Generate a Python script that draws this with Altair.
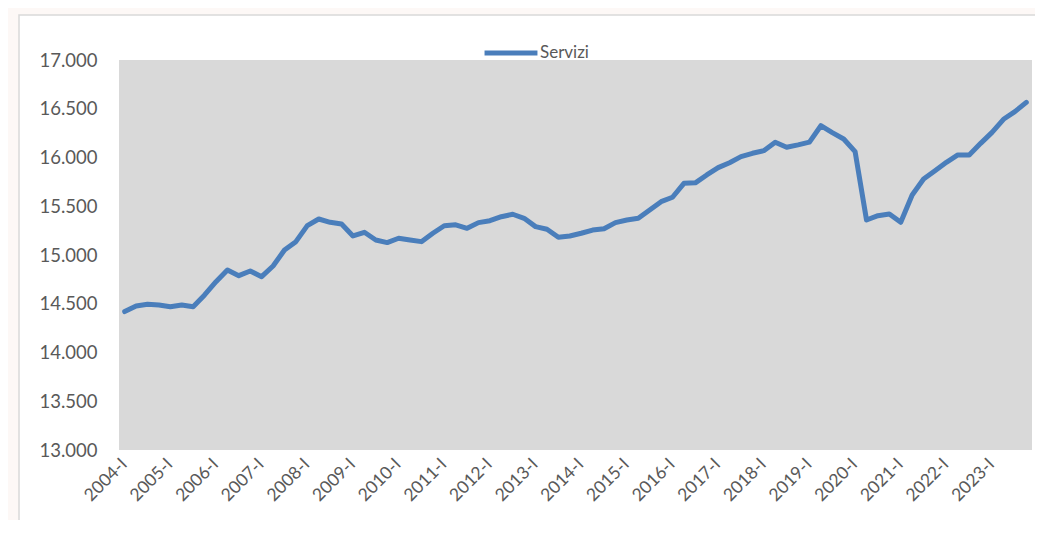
import altair as alt
import pandas as pd

years = list(range(2004, 2024))
quarters = ["I", "II", "III", "IV"]
periods = [f"{y}-{q}" for y in years for q in quarters]

servizi = [
    14420, 14476, 14494, 14487, 14470, 14487, 14470, 14590,
    14726, 14846, 14788, 14836, 14778, 14887, 15051, 15137,
    15301, 15369, 15335, 15318, 15195, 15233, 15154, 15127,
    15172, 15154, 15137, 15223, 15300, 15310, 15274, 15332,
    15352, 15393, 15418, 15376, 15291, 15264, 15182, 15195,
    15223, 15256, 15270, 15332, 15359, 15376, 15462, 15547,
    15592, 15735, 15740, 15821, 15896, 15947, 16009, 16043,
    16070, 16156, 16105, 16130, 16158, 16326, 16255, 16190,
    16060, 15359, 15403, 15421, 15335, 15615, 15779, 15864,
    15951, 16026, 16026, 16145, 16258, 16392, 16470, 16566,
]
year_labels = [f"{y}-I" for y in years]

df = pd.DataFrame({"periodo": periods, "valore": servizi, "serie": "Servizi"})

W, H = 913, 390
FONT = "Lato"
GREY_TXT = "#595959"

frame = alt.Chart(pd.DataFrame({"a": [0]})).mark_rect(
    fill="white", stroke="#d9d9d9", strokeWidth=1.5
).encode(
    x=alt.value(-100), x2=alt.value(W + 40),
    y=alt.value(-45), y2=alt.value(H + 120),
)

plot_bg = alt.Chart(pd.DataFrame({"a": [0]})).mark_rect(fill="#d9d9d9").encode(
    x=alt.value(0), x2=alt.value(W), y=alt.value(0), y2=alt.value(H)
)

line = alt.Chart(df).mark_line(strokeWidth=5, strokeJoin="round", strokeCap="round").encode(
    x=alt.X(
        "periodo:N",
        sort=periods,
        scale=alt.Scale(paddingInner=0, paddingOuter=0),
        axis=alt.Axis(
            title=None, values=year_labels, labelAngle=-45, domain=False, ticks=False,
            labelFont=FONT, labelFontSize=17.5, labelColor=GREY_TXT, labelPadding=5,
            labelOffset=-7, zindex=1,
        ),
    ),
    y=alt.Y(
        "valore:Q",
        scale=alt.Scale(domain=[13000, 17000], nice=False, zero=False),
        axis=alt.Axis(
            title=None, values=[13000, 13500, 14000, 14500, 15000, 15500, 16000, 16500, 17000],
            labelExpr="replace(format(datum.value, ',.0f'), ',', '.')",
            domain=False, ticks=False, grid=False,
            labelFont=FONT, labelFontSize=18.5, labelColor=GREY_TXT, labelPadding=22,
            zindex=1,
        ),
    ),
    color=alt.Color(
        "serie:N",
        scale=alt.Scale(range=["#4a7ebb"]),
        legend=alt.Legend(
            title=None, orient="none", legendX=363, legendY=-36,
            symbolType="stroke", symbolSize=2800, symbolStrokeWidth=5,
            labelFont=FONT, labelFontSize=17, labelColor=GREY_TXT, labelOffset=0,
        ),
    ),
)

chart = alt.layer(frame, plot_bg, line).properties(
    width=W, height=H,
    autosize=alt.AutoSizeParams(type="none"),
    padding={"left": 111, "top": 52, "right": 3, "bottom": 70},
    background="#fdf8f6",
).configure_view(stroke=None)

chart.save("out.html", embed_options={"renderer": "svg", "actions": False})
